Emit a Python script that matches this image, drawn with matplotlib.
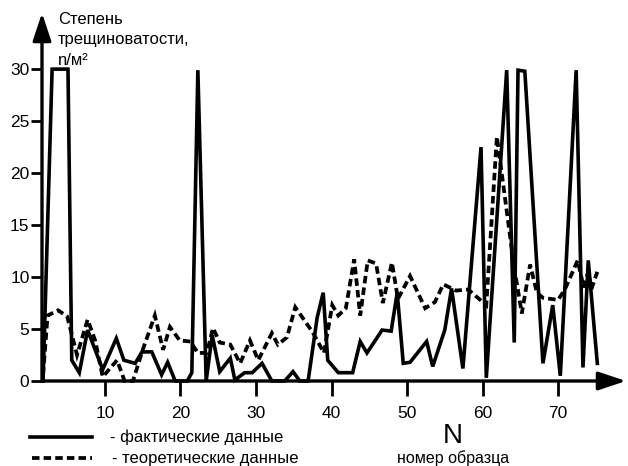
import matplotlib
matplotlib.use('Agg')
import matplotlib.pyplot as plt
from matplotlib.lines import Line2D

plt.rcParams['font.family'] = ['Liberation Sans', 'DejaVu Sans']

# actual data (sample number, fracture density)
fact_x = [1.8, 3.0, 5.1, 5.6, 6.6, 7.7, 9.7, 11.5, 12.5, 14.0, 14.9, 16.2, 17.5, 18.3,
          19.3, 20.9, 21.5, 22.3, 23.4, 24.2, 25.2, 26.6, 27.2, 28.5, 29.5, 30.8, 32.1,
          33.8, 34.9, 35.8, 36.9, 38.1, 38.9, 39.5, 40.9, 42.8, 43.8, 44.7, 46.7, 47.9,
          48.7, 49.5, 50.4, 52.6, 53.4, 55.0, 55.9, 57.4, 59.8, 60.5, 63.2, 64.2, 64.7,
          65.6, 68.0, 69.3, 70.3, 72.4, 73.3, 74.0, 75.2]
fact_y = [0, 30, 30, 2.0, 0.8, 4.9, 1.1, 4.1, 2.0, 1.7, 2.8, 2.8, 0.6, 1.8,
          0, 0, 0.8, 29.9, 0, 4.4, 0.9, 2.2, 0.1, 0.8, 0.8, 1.7, 0,
          0, 0.9, 0, 0, 6.1, 8.5, 2.0, 0.8, 0.8, 3.8, 2.7, 4.9, 4.8,
          8.5, 1.7, 1.8, 3.8, 1.4, 4.9, 8.9, 1.2, 22.5, 0.3, 29.9, 3.7, 29.9,
          29.8, 1.7, 7.3, 0.5, 29.9, 1.3, 11.6, 1.7]

# theoretical data
theo_x = [1.8, 2.4, 3.8, 5.0, 6.3, 7.7, 8.7, 9.7, 11.6, 12.6, 13.7, 15.0, 16.6, 17.7,
          18.6, 19.9, 21.3, 22.3, 23.5, 24.3, 25.2, 26.6, 27.9, 29.2, 30.3, 32.1, 32.9,
          34.1, 35.2, 37.5, 39.0, 40.1, 40.9, 41.9, 43.0, 43.8, 44.8, 45.9, 46.8, 48.0,
          48.8, 50.4, 52.4, 53.7, 54.8, 56.5, 58.1, 60.5, 61.9, 64.2, 65.2, 66.3, 67.2,
          68.0, 70.0, 70.9, 72.6, 73.4, 74.0, 74.4, 75.2]
theo_y = [0.6, 6.3, 6.8, 6.2, 2.5, 5.9, 3.9, 0.4, 2.0, 0, 0, 3.0, 6.3, 3.0,
          5.2, 3.9, 3.8, 2.7, 2.7, 5.1, 3.7, 3.5, 1.7, 3.9, 2.0, 4.6, 3.5,
          4.2, 7.1, 4.7, 2.7, 7.3, 6.3, 7.0, 11.7, 6.3, 11.6, 11.3, 7.5, 11.4,
          7.9, 10.1, 7.0, 7.6, 9.3, 8.7, 8.8, 7.3, 23.5, 10.9, 6.5, 11.2, 8.5,
          8.0, 7.8, 8.8, 11.6, 9.0, 10.5, 8.8, 10.5]

x_ticks = [10, 20, 30, 40, 50, 60, 70]
y_ticks = [0, 5, 10, 15, 20, 25, 30]

fig = plt.figure(figsize=(6.28, 4.66), dpi=100)
W, H = 628, 466

# axes box in pixels: left 42, right 626, bottom 381, top 13
ax = fig.add_axes([42 / W, (H - 381) / H, (626 - 42) / W, (381 - 13) / H])
ax.set_xlim(1.66, 79.0)
ax.set_ylim(0, 35.4)

ax.plot(theo_x, theo_y, color='black', lw=2.7, linestyle=(0, (2.0, 1.1)),
        dash_joinstyle='miter', clip_on=False)
ax.plot(fact_x, fact_y, color='black', lw=2.6, solid_joinstyle='miter', clip_on=False)

for s in ['top', 'right', 'left', 'bottom']:
    ax.spines[s].set_visible(False)

# axes drawn as arrows
ax.annotate('', xy=(1.0, 0), xytext=(0, 0), xycoords='axes fraction',
            arrowprops=dict(arrowstyle='-|>,head_length=1.2,head_width=0.4',
                            lw=2.4, color='black', mutation_scale=14,
                            shrinkA=0, shrinkB=0))
ax.annotate('', xy=(0, 1.0), xytext=(0, 0), xycoords='axes fraction',
            arrowprops=dict(arrowstyle='-|>,head_length=1.2,head_width=0.4',
                            lw=2.4, color='black', mutation_scale=14,
                            shrinkA=0, shrinkB=0))

ax.set_xticks(x_ticks)
ax.set_yticks(y_ticks)
ax.tick_params(axis='x', direction='out', length=11, width=2, pad=7, labelsize=12.5)
ax.tick_params(axis='y', direction='out', length=8, width=2, pad=1, labelsize=12.5)

# y axis title
fig.text(58 / W, 1 - 12 / H, 'Степень\nтрещиноватости,\nn/м²', ha='left', va='top',
         fontsize=12, linespacing=1.45)

# x axis title
fig.text(453 / W, 1 - 436 / H, 'N', ha='center', va='center', fontsize=20)
fig.text(453 / W, 1 - 458 / H, 'номер образца', ha='center', va='center', fontsize=11.5)

# legend
fig.add_artist(Line2D([30 / W, 92 / W], [1 - 437 / H] * 2, color='black', lw=2.6))
fig.add_artist(Line2D([32 / W, 92 / W], [1 - 458 / H] * 2, color='black', lw=2.7,
                      linestyle=(0, (2.0, 1.1))))
fig.text(110 / W, 1 - 437 / H, '- фактические данные', ha='left', va='center', fontsize=12)
fig.text(112 / W, 1 - 458 / H, '- теоретические данные', ha='left', va='center', fontsize=12)

fig.savefig('out.png', dpi=100)
